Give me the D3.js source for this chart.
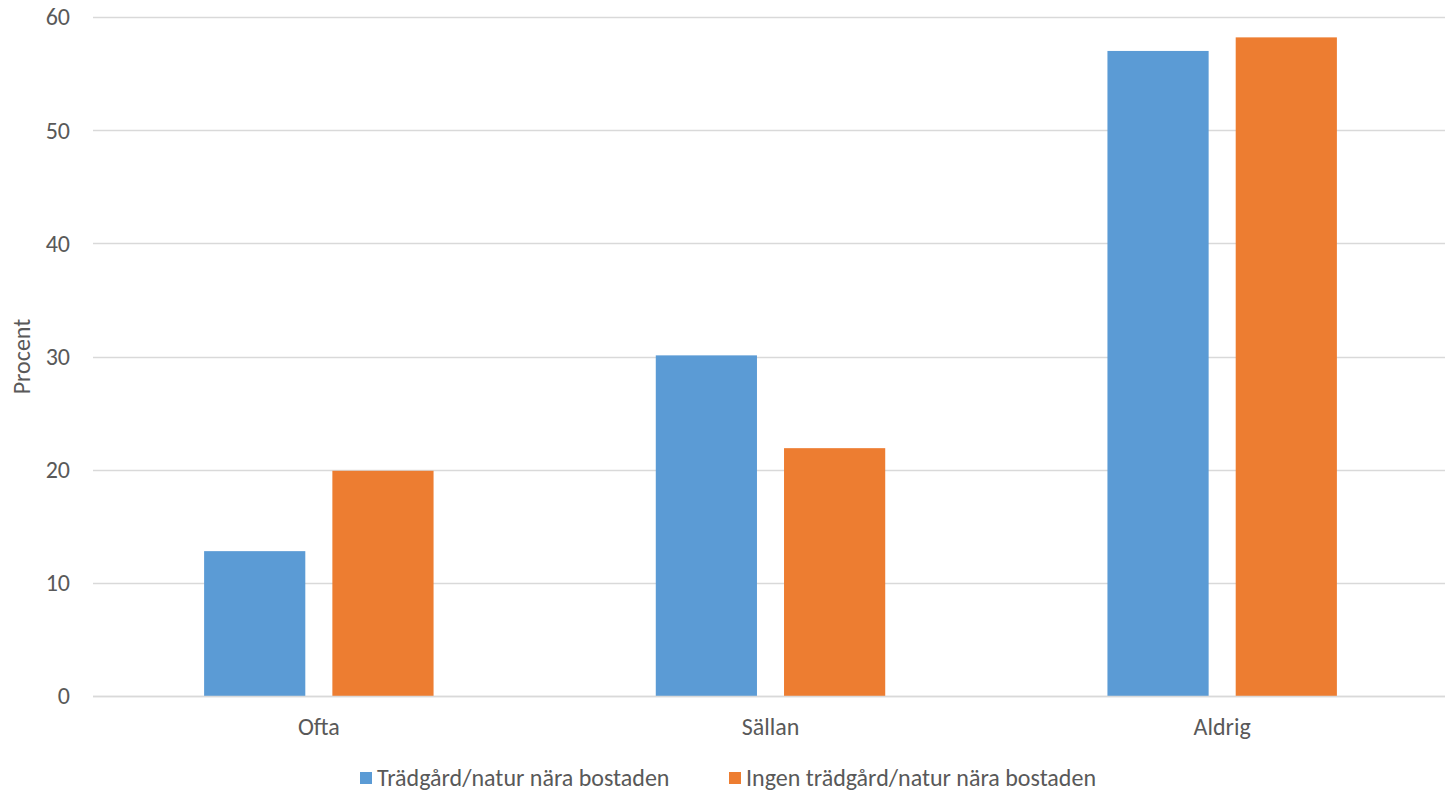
<!DOCTYPE html>
<html lang="sv">
<head>
<meta charset="utf-8">
<title>Procent</title>
<style>
  * { margin:0; padding:0; }
  body { background:#fff; }
  svg text { font-family: Carlito, "Open Sans", "Noto Sans", Arial, sans-serif; fill:#595959; }
</style>
<script src="https://d3js.org/d3.v7.min.js"></script>
</head>
<body>
<div id="chart"></div>
<script>
var categories = ["Ofta", "Sällan", "Aldrig"];
var seriesNames = ["Trädgård/natur nära bostaden", "Ingen trädgård/natur nära bostaden"];
var trädgård = [12.8, 30.1, 57.0];
var ingen = [19.9, 21.9, 58.2];
var yTicks = [0, 10, 20, 30, 40, 50, 60];
var colors = ["#5b9bd5", "#ed7d31"];

var w = 1445, h = 793;
var svg = d3.select("#chart").append("svg").attr("width", w).attr("height", h);

var pLeft = 93, pRight = 1445, pTop = 17, pBottom = 696;

var x = d3.scaleBand().domain(categories).range([pLeft, 1448])
  .paddingInner(0.492).paddingOuter(0.246);
var xs = d3.scaleBand().domain(seriesNames).range([0, x.bandwidth()])
  .paddingInner(0.211).paddingOuter(0);
var y = d3.scaleLinear().domain([0, 60]).range([pBottom, pTop]);

// gridlines
svg.append("g").selectAll("line").data(yTicks).enter().append("line")
  .attr("x1", pLeft).attr("x2", pRight)
  .attr("y1", function(d){ return Math.round(y(d)) + 0.5; })
  .attr("y2", function(d){ return Math.round(y(d)) + 0.5; })
  .attr("stroke", "#d9d9d9").attr("stroke-width", 1.3);

// y tick labels
svg.append("g").selectAll("text").data(yTicks).enter().append("text")
  .attr("x", 70).attr("y", function(d){ return y(d); })
  .attr("dy", "0.35em").attr("text-anchor", "end")
  .style("font-size", "24px")
  .text(function(d){ return d; });

// bars
var rows = categories.map(function(c, i){ return {cat: c, vals: [trädgård[i], ingen[i]]}; });
var groups = svg.append("g").selectAll("g").data(rows).enter().append("g")
  .attr("transform", function(d){ return "translate(" + x(d.cat) + ",0)"; });
groups.selectAll("rect").data(function(d){
    return d.vals.map(function(v, j){ return {name: seriesNames[j], v: v, j: j}; });
  }).enter().append("rect")
  .attr("x", function(d){ return xs(d.name); })
  .attr("width", xs.bandwidth())
  .attr("y", function(d){ return y(d.v); })
  .attr("height", function(d){ return y(0) - y(d.v); })
  .attr("fill", function(d){ return colors[d.j]; });

// redraw baseline on top
svg.append("line").attr("x1", pLeft).attr("x2", pRight)
  .attr("y1", Math.round(y(0)) + 0.5).attr("y2", Math.round(y(0)) + 0.5)
  .attr("stroke", "#d9d9d9").attr("stroke-width", 1.3);

// category labels
svg.append("g").selectAll("text").data(categories).enter().append("text")
  .attr("x", function(d){ return x(d) + x.bandwidth() / 2; })
  .attr("y", 735).attr("text-anchor", "middle")
  .style("font-size", "24px")
  .text(function(d){ return d; });

// y axis title
svg.append("text")
  .attr("transform", "translate(30," + ((pTop + pBottom) / 2) + ") rotate(-90)")
  .attr("text-anchor", "middle")
  .style("font-size", "24px")
  .text("Procent");

// legend
var legendX = [360, 729];
var leg = svg.append("g").selectAll("g").data(seriesNames).enter().append("g")
  .attr("transform", function(d, i){ return "translate(" + legendX[i] + ",772)"; });
leg.append("rect").attr("width", 12).attr("height", 12)
  .attr("fill", function(d, i){ return colors[i]; });
leg.append("text").attr("x", 17).attr("y", 6).attr("dy", "0.35em")
  .style("font-size", "24px")
  .text(function(d){ return d; });
</script>
</body>
</html>
